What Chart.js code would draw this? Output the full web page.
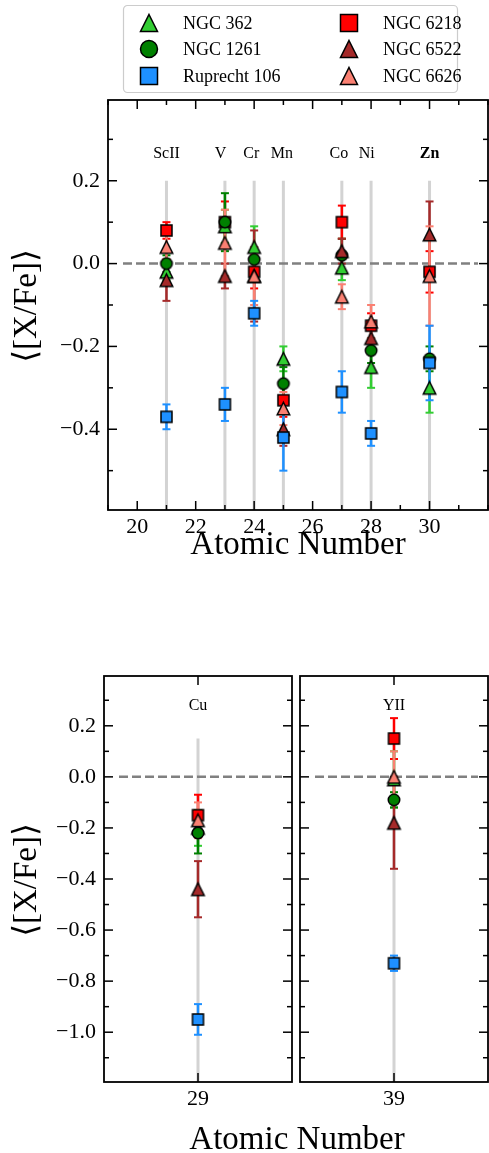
<!DOCTYPE html>
<html><head><meta charset="utf-8">
<script src="https://cdn.jsdelivr.net/npm/chart.js@4.4.0/dist/chart.umd.min.js"></script>
<style>
html,body{margin:0;padding:0;background:#fff;}
#wrap{position:relative;width:489px;height:1153px;overflow:hidden;}
canvas{position:absolute;left:0;top:0;}
</style></head><body>
<div id="wrap">
<canvas id="cTop" width="489" height="1153"></canvas>
<canvas id="cCu" width="489" height="1153"></canvas>
<canvas id="cY" width="489" height="1153"></canvas>
</div>
<script>
// ---------------- data ----------------
const clusterNames  = ['NGC 362','NGC 1261','Ruprecht 106','NGC 6218','NGC 6522','NGC 6626'];
const clusterColors = ['#32CD32','#008000','#1E90FF','#FF0000','#A52A2A','#FA8072'];
const clusterShapes = ['tri','circle','square','square','tri','tri'];
const clusterOrder  = [4,3,0,5,2,1]; // lower = drawn on top

const topZ        = [21,23,24,25,27,28,30];
const topElements = ['ScII','V','Cr','Mn','Co','Ni','Zn'];
const topLabelX   = [21,22.85,23.9,24.95,26.9,27.85,30];

const ngc362Top     = [-0.02, 0.09, 0.04,-0.23,-0.01,-0.25,-0.30];
const ngc362TopErr  = [ 0.02, 0.04, 0.05, 0.03, 0.03, 0.05, 0.06];
const ngc1261Top    = [ 0.00, 0.10, 0.01,-0.29, 0.02,-0.21,-0.23];
const ngc1261TopErr = [ 0.02, 0.07, 0.03, 0.04, 0.04, 0.03, 0.03];
const rup106Top     = [-0.37,-0.34,-0.12,-0.42,-0.31,-0.41,-0.24];
const rup106TopErr  = [ 0.03, 0.04, 0.03, 0.08, 0.05, 0.03, 0.09];
const ngc6218Top    = [ 0.08, 0.10,-0.02,-0.33, 0.10,-0.15,-0.02];
const ngc6218TopErr = [ 0.02, 0.05, 0.04, 0.04, 0.04, 0.03, 0.05];
const ngc6522Top    = [-0.04,-0.03,-0.03,-0.40, 0.03,-0.18, 0.07];
const ngc6522TopErr = [ 0.05, 0.03, 0.11, 0.04, 0.03, 0.03, 0.08];
const ngc6626Top    = [ 0.04, 0.05,-0.03,-0.35,-0.08,-0.14,-0.03];
const ngc6626TopErr = [ 0.03, 0.08, 0.07, 0.04, 0.03, 0.04, 0.12];

const bottomZ        = [29, 39];
const bottomElements = ['Cu','YII'];
const ngc362Bot     = [-0.20,-0.01]; const ngc362BotErr  = [0.07,0.11];
const ngc1261Bot    = [-0.22,-0.09]; const ngc1261BotErr = [0.08,0.03];
const rup106Bot     = [-0.95,-0.73]; const rup106BotErr  = [0.06,0.03];
const ngc6218Bot    = [-0.15, 0.15]; const ngc6218BotErr = [0.08,0.08];
const ngc6522Bot    = [-0.44,-0.18]; const ngc6522BotErr = [0.11,0.18];
const ngc6626Bot    = [-0.17, 0.00]; const ngc6626BotErr = [0.07,0.10];

const xTicksTop    = [20,22,24,26,28,30];
const yTicksTop    = [-0.4,-0.2,0.0,0.2];
const yTicksBottom = [-1.0,-0.8,-0.6,-0.4,-0.2,0.0,0.2];

const topVals = [ngc362Top,ngc1261Top,rup106Top,ngc6218Top,ngc6522Top,ngc6626Top];
const topErrs = [ngc362TopErr,ngc1261TopErr,rup106TopErr,ngc6218TopErr,ngc6522TopErr,ngc6626TopErr];
const botVals = [ngc362Bot,ngc1261Bot,rup106Bot,ngc6218Bot,ngc6522Bot,ngc6626Bot];
const botErrs = [ngc362BotErr,ngc1261BotErr,rup106BotErr,ngc6218BotErr,ngc6522BotErr,ngc6626BotErr];

// ---------------- styling ----------------
const SERIF = '"Liberation Serif","DejaVu Serif",serif';
const W = 489, H = 1153;

function markerPath(ctx, shape, cx, cy, s){
  ctx.beginPath();
  if (shape==='tri'){ ctx.moveTo(cx, cy-s/2); ctx.lineTo(cx+s/2, cy+s/2); ctx.lineTo(cx-s/2, cy+s/2); ctx.closePath(); }
  else if (shape==='square'){ ctx.rect(cx-s/2, cy-s/2, s, s); }
  else { ctx.arc(cx, cy, s/2, 0, Math.PI*2); }
}
function drawMarker(ctx, shape, cx, cy, s, color){
  markerPath(ctx, shape, cx, cy, s);
  ctx.fillStyle = color; ctx.fill();
  ctx.lineWidth = 1.5; ctx.strokeStyle = '#000'; ctx.lineJoin='miter'; ctx.stroke();
}
const dataSize = {tri:12.5, square:11, circle:11.5};
const legSize  = {tri:17, square:17, circle:17};
function markerImage(shape, color){
  const s = dataSize[shape]; const d = Math.ceil(s+4);
  const c = document.createElement('canvas'); c.width = d; c.height = d;
  drawMarker(c.getContext('2d'), shape, d/2, d/2, s, color);
  return c;
}

function buildDatasets(zs, vals, errs){
  return clusterNames.map((name,i)=>({
    label: name,
    data: zs.map((z,j)=>({x:z, y:vals[i][j]})),
    errors: errs[i],
    errColor: clusterColors[i],
    order: clusterOrder[i],
    pointStyle: markerImage(clusterShapes[i], clusterColors[i]),
    pointRadius: 6,
    showLine: false
  }));
}

const CFG = {
  cTop: { refX: topZ, refTop: 0.2, minorX: 1, minorY: 0.1,
          labels: topElements.map((t,i)=>({x:topLabelX[i], y:0.265, text:t, bold:t==='Zn'})),
          xTitle:{text:'Atomic Number', x:298, y:545}, yTitle:{text:'⟨[X/Fe]⟩', x:27, y:306}, legend:true },
  cCu:  { refX: [bottomZ[0]], refTop: 0.15, minorX: null, minorY: 0.1,
          labels: [{x:bottomZ[0], y:0.28, text:bottomElements[0]}],
          xTitle:{text:'Atomic Number', x:297, y:1140}, yTitle:{text:'⟨[X/Fe]⟩', x:27, y:880} },
  cY:   { refX: [bottomZ[1]], refTop: 0.15, minorX: null, minorY: 0.1,
          labels: [{x:bottomZ[1], y:0.28, text:bottomElements[1]}] }
};

function line(ctx,x1,y1,x2,y2){ ctx.beginPath(); ctx.moveTo(x1,y1); ctx.lineTo(x2,y2); ctx.stroke(); }

const decor = {
  id:'decor',
  beforeDatasetsDraw(chart){
    const c = CFG[chart.canvas.id]; const ctx = chart.ctx; const a = chart.chartArea;
    const xs = chart.scales.x, ys = chart.scales.y;
    ctx.save();
    ctx.beginPath(); ctx.rect(a.left, a.top, a.right-a.left, a.bottom-a.top); ctx.clip();
    ctx.strokeStyle = '#d3d3d3'; ctx.lineWidth = 3;
    c.refX.forEach(z=>{ const px = xs.getPixelForValue(z); line(ctx, px, ys.getPixelForValue(c.refTop), px, a.bottom); });
    ctx.strokeStyle = '#808080'; ctx.lineWidth = 2.5; ctx.setLineDash([9,4]);
    const y0 = ys.getPixelForValue(0);
    line(ctx, a.left+15, y0, a.right-10, y0);
    ctx.setLineDash([]);
    const sets = chart.data.datasets.slice().sort((p,q)=>q.order-p.order);
    sets.forEach(d=>{
      ctx.strokeStyle = d.errColor;
      d.data.forEach((p,j)=>{
        const e = d.errors[j]; const px = xs.getPixelForValue(p.x);
        const y1 = ys.getPixelForValue(p.y+e), y2 = ys.getPixelForValue(p.y-e);
        ctx.lineWidth = 2.5; line(ctx, px, y1, px, y2);
        ctx.lineWidth = 2; line(ctx, px-4, y1, px+4, y1); line(ctx, px-4, y2, px+4, y2);
      });
    });
    ctx.restore();
  },
  afterDatasetsDraw(chart){
    const c = CFG[chart.canvas.id]; const ctx = chart.ctx; const a = chart.chartArea;
    const xs = chart.scales.x, ys = chart.scales.y;
    ctx.save();
    ctx.strokeStyle = '#000';
    ctx.lineWidth = 1.5;
    const MAJ = 9, MIN = 5;
    xs.ticks.forEach(t=>{ const px = xs.getPixelForValue(t.value);
      line(ctx, px, a.bottom, px, a.bottom-MAJ); line(ctx, px, a.top, px, a.top+MAJ); });
    if (c.minorX){
      for (let v = Math.ceil(xs.min); v <= xs.max; v += c.minorX){
        if (xs.ticks.some(t=>Math.abs(t.value-v)<1e-6)) continue;
        const px = xs.getPixelForValue(v);
        line(ctx, px, a.bottom, px, a.bottom-MIN); line(ctx, px, a.top, px, a.top+MIN);
      }
    }
    ys.ticks.forEach(t=>{ const py = ys.getPixelForValue(t.value);
      line(ctx, a.left, py, a.left+MAJ, py); line(ctx, a.right, py, a.right-MAJ, py); });
    if (c.minorY){
      const k0 = Math.ceil(ys.min/c.minorY-1e-6), k1 = Math.floor(ys.max/c.minorY+1e-6);
      for (let k = k0; k <= k1; k++){
        const v = k*c.minorY;
        if (ys.ticks.some(t=>Math.abs(t.value-v)<1e-6)) continue;
        const py = ys.getPixelForValue(v);
        line(ctx, a.left, py, a.left+MIN, py); line(ctx, a.right, py, a.right-MIN, py);
      }
    }
    ctx.lineWidth = 1.8;
    ctx.strokeRect(a.left, a.top, a.right-a.left, a.bottom-a.top);
    ctx.fillStyle = '#000'; ctx.textAlign = 'center'; ctx.textBaseline = 'middle';
    c.labels.forEach(l=>{
      ctx.font = (l.bold ? 'bold ' : '') + '16px ' + SERIF;
      ctx.fillText(l.text, xs.getPixelForValue(l.x), ys.getPixelForValue(l.y));
    });
    ctx.restore();
  },
  afterDraw(chart){
    const c = CFG[chart.canvas.id]; const ctx = chart.ctx;
    ctx.save(); ctx.fillStyle = '#000'; ctx.textAlign = 'center'; ctx.textBaseline = 'middle';
    if (c.xTitle){ ctx.font = '33px ' + SERIF; ctx.fillText(c.xTitle.text, c.xTitle.x, c.xTitle.y); }
    if (c.yTitle){ ctx.save(); ctx.translate(c.yTitle.x, c.yTitle.y); ctx.rotate(-Math.PI/2);
      ctx.font = '33px ' + SERIF; ctx.fillText(c.yTitle.text, 0, 0); ctx.restore(); }
    if (c.legend){
      const bx = 123.5, by = 5.5, bw = 334, bh = 87, r = 4;
      ctx.beginPath(); ctx.roundRect(bx, by, bw, bh, r);
      ctx.fillStyle = 'rgba(255,255,255,0.8)'; ctx.fill();
      ctx.strokeStyle = '#cccccc'; ctx.lineWidth = 1.2; ctx.stroke();
      const cols = [[0,1,2],[3,4,5]]; const mx = [149,349], tx = [183,383], ry = [23,49,76];
      ctx.font = '18px ' + SERIF; ctx.textAlign = 'left';
      cols.forEach((col,ci)=>col.forEach((k,ri)=>{
        drawMarker(ctx, clusterShapes[k], mx[ci], ry[ri], legSize[clusterShapes[k]], clusterColors[k]);
        ctx.fillStyle = '#000'; ctx.fillText(clusterNames[k], tx[ci], ry[ri]+1);
      }));
    }
    ctx.restore();
  }
};

function fmt(v){ return v.toFixed(1).replace('-', '\u2212'); }

function makeChart(id, area, xr, xt, yr, yt, datasets, showYLabels){
  const AXH = 40;
  return new Chart(document.getElementById(id), {
    type: 'scatter',
    data: { datasets },
    options: {
      responsive: false, animation: false, devicePixelRatio: 1,
      layout: { autoPadding: false, padding: { left: 0, top: area.t, right: W-area.r, bottom: H-area.b-AXH } },
      plugins: { legend: {display:false}, tooltip: {enabled:false} },
      scales: {
        x: { type:'linear', min:xr[0], max:xr[1],
             afterFit: s=>{ s.height = AXH; },
             afterBuildTicks: s=>{ s.ticks = xt.map(v=>({value:v})); },
             grid:{display:false, drawTicks:false}, border:{display:false},
             ticks:{ color:'#000', padding:4, maxRotation:0, autoSkip:false,
                     font:{family:SERIF, size:22}, callback:v=>String(v) } },
        y: { type:'linear', min:yr[0], max:yr[1],
             afterFit: s=>{ s.width = area.l; },
             afterBuildTicks: s=>{ s.ticks = yt.map(v=>({value:v})); },
             grid:{display:false, drawTicks:false}, border:{display:false},
             ticks:{ display: showYLabels, color:'#000', padding:8, autoSkip:false,
                     font:{family:SERIF, size:22}, callback:v=>fmt(v) } }
      }
    },
    plugins: [decor]
  });
}

makeChart('cTop', {l:108, t:100, r:488, b:510}, [19,32], xTicksTop, [-0.595,0.395], yTicksTop,
          buildDatasets(topZ, topVals, topErrs), true);
makeChart('cCu', {l:104, t:676, r:292, b:1082}, [28,30], [bottomZ[0]], [-1.195,0.395], yTicksBottom,
          buildDatasets([bottomZ[0]], botVals.map(v=>[v[0]]), botErrs.map(v=>[v[0]])), true);
makeChart('cY', {l:300, t:676, r:488, b:1082}, [38,40], [bottomZ[1]], [-1.195,0.395], yTicksBottom,
          buildDatasets([bottomZ[1]], botVals.map(v=>[v[1]]), botErrs.map(v=>[v[1]])), false);
</script>
</body></html>
